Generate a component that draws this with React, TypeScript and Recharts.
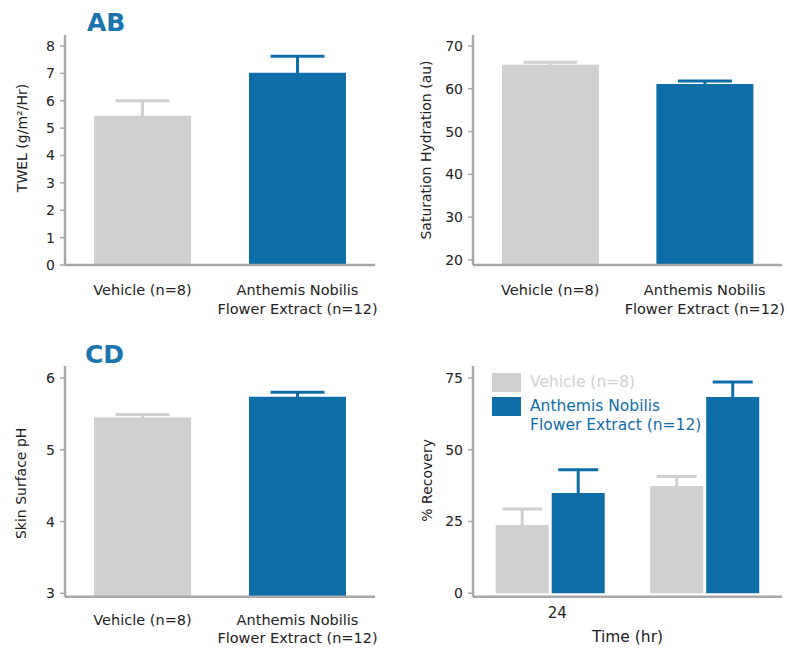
import React from 'react';
import { BarChart, Bar, XAxis, YAxis, ErrorBar, Legend } from 'recharts';

const FONT = '"DejaVu Sans", sans-serif';
const GRAY = '#d0d0d0';
const BLUE = '#0e6ea8';
const TITLE_BLUE = '#1a74ad';
const AXIS = '#a8a8a8';
const INK = '#222222';

// shared categories
const groups = ['Vehicle (n=8)', 'Anthemis Nobilis Flower Extract (n=12)'];

// A: TWEL
const twelMean = [5.45, 7.02];
const twelErr = [0.55, 0.61];
const twelTicks = [0, 1, 2, 3, 4, 5, 6, 7, 8];

// B: saturation hydration
const hydMean = [65.6, 61.1];
const hydErr = [0.6, 0.7];
const hydTicks = [20, 30, 40, 50, 60, 70];

// C: skin surface pH
const phMean = [5.45, 5.74];
const phErr = [0.04, 0.06];
const phTicks = [3, 4, 5, 6];

// D: % recovery over time
const times = ['24', ''];
const recVehicle = [23.8, 37.4];
const recVehicleErr = [5.6, 3.3];
const recAnthemis = [34.9, 68.4];
const recAnthemisErr = [8.1, 5.2];
const recTicks = [0, 25, 50, 75];

function splitLabel(s: string): string[] {
  if (s.length <= 20) return [s];
  const mid = s.length / 2;
  let best = -1;
  for (let i = 0; i < s.length; i++) {
    if (s[i] === ' ' && (best < 0 || Math.abs(i - mid) < Math.abs(best - mid))) best = i;
  }
  return [s.slice(0, best), s.slice(best + 1)];
}

// one bar per category, each group on its own x axis so it keeps its own colour
function groupRows(mean: number[], err: number[]) {
  return groups.map((g, i) => ({
    group: g,
    vehicle: i === 0 ? mean[i] : null,
    vehicleErr: i === 0 ? err[i] : null,
    anthemis: i === 1 ? mean[i] : null,
    anthemisErr: i === 1 ? err[i] : null,
  }));
}

function GroupTick({ x, y, payload, dy = 21 }: any) {
  const lines = splitLabel(String(payload.value));
  return (
    <text x={x} y={y} textAnchor="middle" fontFamily={FONT} fontSize={14.5} fill={INK}>
      {lines.map((l, i) => (
        <tspan key={l} x={x} dy={i === 0 ? dy : 18.5}>
          {l}
        </tspan>
      ))}
    </text>
  );
}

function TimeTick({ x, y, payload }: any) {
  return (
    <text x={x + 7} y={y} dy={13.5} textAnchor="middle" fontFamily={FONT} fontSize={15} fill={INK}>
      {payload.value}
    </text>
  );
}

function AxisTitle({ viewBox, title, px, shift = 0 }: any) {
  const cy = viewBox.y + viewBox.height / 2 + shift;
  return (
    <text
      x={px}
      y={cy}
      transform={`rotate(-90, ${px}, ${cy})`}
      textAnchor="middle"
      dominantBaseline="central"
      fontFamily={FONT}
      fontSize={14}
      fill={INK}
    >
      {title}
    </text>
  );
}

function RecoveryLegend({ payload }: any) {
  const items = [...(payload || [])].sort(
    (a: any, b: any) => groups.indexOf(a.value) - groups.indexOf(b.value),
  );
  return (
    <div style={{ fontFamily: FONT, fontSize: 15.5 }}>
      {items.map((p: any) => (
        <div key={p.value} style={{ display: 'flex', alignItems: 'flex-start', marginBottom: 5 }}>
          <div style={{ width: 29, height: 19, background: p.color, flexShrink: 0 }} />
          <div style={{ marginLeft: 9, color: p.color, lineHeight: '19px' }}>
            {splitLabel(String(p.value)).map((l) => (
              <div key={l}>{l}</div>
            ))}
          </div>
        </div>
      ))}
    </div>
  );
}

interface PanelProps {
  left: number;
  top: number;
  width: number;
  height: number;
  margin: { top: number; right: number; bottom: number; left: number };
  xHeight: number;
  mean: number[];
  err: number[];
  ticks: number[];
  domainMin: number;
  padTop: number;
  yTitle: string;
  titleX: number;
  titleShift?: number;
  tickDy?: number;
}

function GroupPanel(p: PanelProps) {
  const data = groupRows(p.mean, p.err);
  return (
    <div style={{ position: 'absolute', left: p.left, top: p.top }}>
      <BarChart
        width={p.width}
        height={p.height}
        data={data}
        margin={p.margin}
        barCategoryGap="18.7%"
        baseValue="dataMin"
      >
        <XAxis
          xAxisId="veh"
          dataKey="group"
          height={p.xHeight}
          interval={0}
          tickLine={false}
          axisLine={{ stroke: AXIS, strokeWidth: 2.5 }}
          tick={<GroupTick dy={p.tickDy} />}
        />
        <XAxis xAxisId="ant" dataKey="group" hide height={0} />
        <YAxis
          width={50}
          domain={[p.domainMin, p.ticks[p.ticks.length - 1]]}
          ticks={p.ticks}
          padding={{ top: p.padTop, bottom: 0 }}
          allowDataOverflow
          tickSize={5}
          tickMargin={5}
          axisLine={{ stroke: AXIS, strokeWidth: 2.5 }}
          tickLine={{ stroke: AXIS, strokeWidth: 1.5 }}
          tick={{ fontSize: 14, fill: INK, fontFamily: FONT }}
          label={<AxisTitle title={p.yTitle} px={p.titleX} shift={p.titleShift} />}
        />
        <Bar xAxisId="veh" dataKey="vehicle" name={groups[0]} fill={GRAY} isAnimationActive={false}>
          <ErrorBar dataKey="vehicleErr" width={27} strokeWidth={3} stroke={GRAY} direction="y" />
        </Bar>
        <Bar xAxisId="ant" dataKey="anthemis" name={groups[1]} fill={BLUE} isAnimationActive={false}>
          <ErrorBar dataKey="anthemisErr" width={27} strokeWidth={3} stroke={BLUE} direction="y" />
        </Bar>
      </BarChart>
    </div>
  );
}

function RecoveryPanel() {
  const data = times.map((t, i) => ({
    time: t,
    vehicle: recVehicle[i],
    vehicleErr: recVehicleErr[i],
    anthemis: recAnthemis[i],
    anthemisErr: recAnthemisErr[i],
  }));
  return (
    <div style={{ position: 'absolute', left: 400, top: 330 }}>
      <BarChart
        width={387}
        height={318}
        data={data}
        margin={{ top: 36, right: 5, bottom: 5, left: 23 }}
        barCategoryGap="14.7%"
        barGap={3}
        baseValue="dataMin"
      >
        <XAxis
          dataKey="time"
          height={46.3}
          interval={0}
          tickLine={false}
          axisLine={{ stroke: AXIS, strokeWidth: 2.5 }}
          tick={<TimeTick />}
          label={{
            value: 'Time (hr)',
            position: 'insideBottom',
            offset: 1,
            fontSize: 15.5,
            fill: INK,
            fontFamily: FONT,
          }}
        />
        <YAxis
          width={50}
          domain={[-1.2, 75]}
          ticks={recTicks}
          padding={{ top: 12, bottom: 0 }}
          allowDataOverflow
          tickSize={5}
          tickMargin={5}
          axisLine={{ stroke: AXIS, strokeWidth: 2.5 }}
          tickLine={{ stroke: AXIS, strokeWidth: 1.5 }}
          tick={{ fontSize: 14, fill: INK, fontFamily: FONT }}
          label={<AxisTitle title="% Recovery" px={27} shift={-1} />}
        />
        <Legend
          layout="vertical"
          align="center"
          verticalAlign="middle"
          content={<RecoveryLegend />}
          wrapperStyle={{ left: 92, top: 43, width: 260 }}
        />
        <Bar dataKey="vehicle" name={groups[0]} fill={GRAY} isAnimationActive={false}>
          <ErrorBar dataKey="vehicleErr" width={20} strokeWidth={3} stroke={GRAY} direction="y" />
        </Bar>
        <Bar dataKey="anthemis" name={groups[1]} fill={BLUE} isAnimationActive={false}>
          <ErrorBar dataKey="anthemisErr" width={20} strokeWidth={3} stroke={BLUE} direction="y" />
        </Bar>
      </BarChart>
    </div>
  );
}

const titleStyle: React.CSSProperties = {
  position: 'absolute',
  fontFamily: FONT,
  fontWeight: 'bold',
  fontSize: 25,
  lineHeight: '25px',
  color: TITLE_BLUE,
};

export default function App() {
  return (
    <div style={{ position: 'absolute', left: 0, top: 0, width: 787, height: 648, background: '#fff' }}>
      <GroupPanel
        left={0}
        top={0}
        width={400}
        height={330}
        margin={{ top: 35, right: 25, bottom: 5, left: 15 }}
        xHeight={60}
        mean={twelMean}
        err={twelErr}
        ticks={twelTicks}
        domainMin={0}
        padTop={11}
        yTitle="TWEL (g/m²/Hr)"
        titleX={22}
        titleShift={-12}
        tickDy={22}
      />
      <GroupPanel
        left={400}
        top={0}
        width={387}
        height={330}
        margin={{ top: 35, right: 5, bottom: 5, left: 23 }}
        xHeight={60}
        mean={hydMean}
        err={hydErr}
        ticks={hydTicks}
        domainMin={18.8}
        padTop={11}
        yTitle="Saturation Hydration (au)"
        titleX={26}
        tickDy={22}
      />
      <GroupPanel
        left={0}
        top={330}
        width={400}
        height={318}
        margin={{ top: 36, right: 25, bottom: 5, left: 15 }}
        xHeight={46.3}
        mean={phMean}
        err={phErr}
        ticks={phTicks}
        domainMin={2.953}
        padTop={12}
        yTitle="Skin Surface pH"
        titleX={21}
        titleShift={2}
        tickDy={20}
      />
      <RecoveryPanel />
      <div style={{ ...titleStyle, left: 87, top: 10 }}>AB</div>
      <div style={{ ...titleStyle, left: 85, top: 342 }}>CD</div>
    </div>
  );
}
